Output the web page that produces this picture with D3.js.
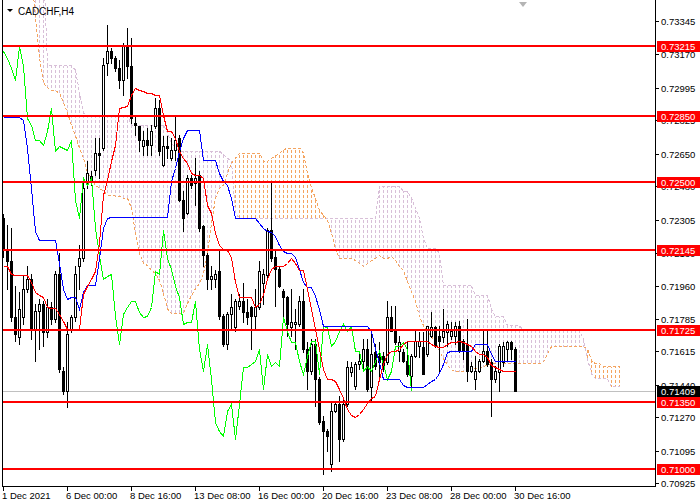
<!DOCTYPE html>
<html>
<head>
<meta charset="utf-8">
<script src="https://cdn.jsdelivr.net/npm/d3@7"></script>
<style>
  body { margin: 0; background: #fff; }
  svg { display: block; }
  text { font-family: "Liberation Sans", Arial, sans-serif; }
</style>
</head>
<body>
<svg id="chart" width="700" height="500"></svg>
<script>
const symbol = "CADCHF,H4";

// H4 candles, one per bar
const opens = [
  0.72312,0.72154,0.72091,0.71797,0.71692,0.71797,0.71944,0.71997,0.71734,0.71829,
  0.71866,0.71719,0.71850,0.71787,0.72023,0.71514,0.71409,0.71734,0.71797,0.72060,
  0.72102,0.72496,0.72506,0.72564,0.72653,0.72680,0.73126,0.73189,0.73152,0.73100,
  0.73037,0.73215,0.73110,0.72811,0.72795,0.72690,0.72722,0.72695,0.72795,0.72890,
  0.72590,0.72690,0.72627,0.72669,0.72732,0.72407,0.72338,0.72522,0.72496,0.72538,
  0.72270,0.72118,0.71997,0.71997,0.72034,0.71803,0.71656,0.71813,0.71745,0.71855,
  0.71881,0.71824,0.71850,0.71803,0.71850,0.71971,0.72013,0.72249,0.72112,0.72049,
  0.71934,0.71902,0.71745,0.71761,0.71761,0.71881,0.71629,0.71514,0.71656,0.71472,
  0.71251,0.71199,0.71026,0.71304,0.71341,0.71157,0.71341,0.71509,0.71435,0.71551,
  0.71566,0.71629,0.71430,0.71614,0.71593,0.71593,0.71561,0.71797,0.71724,0.71619,
  0.71614,0.71566,0.71488,0.71593,0.71645,0.71640,0.71603,0.71698,0.71745,0.71698,
  0.71692,0.71719,0.71698,0.71698,0.71750,0.71671,0.71656,0.71514,0.71472,0.71514,
  0.71566,0.71619,0.71561,0.71472,0.71509,0.71561,0.71629,0.71666,0.71629
];
const highs = [
  0.72333,0.72275,0.72259,0.71960,0.71929,0.72013,0.72065,0.72023,0.71866,0.71892,
  0.71881,0.71892,0.71876,0.72034,0.72128,0.71535,0.71771,0.71808,0.72065,0.72170,
  0.72522,0.72611,0.72559,0.72732,0.72732,0.73152,0.73325,0.73205,0.73163,0.73142,
  0.73231,0.73310,0.73257,0.72848,0.72795,0.72769,0.72785,0.72800,0.72942,0.72932,
  0.72743,0.72743,0.72732,0.72853,0.72748,0.72454,0.72538,0.72538,0.72627,0.72559,
  0.72275,0.72128,0.72065,0.72039,0.72154,0.71813,0.71824,0.71918,0.71892,0.71918,
  0.71971,0.71892,0.71855,0.71944,0.72091,0.72049,0.72259,0.72496,0.72154,0.72065,
  0.71944,0.71908,0.71944,0.71839,0.71908,0.71944,0.71666,0.71682,0.71682,0.71482,
  0.71278,0.71209,0.71351,0.71351,0.71383,0.71369,0.71566,0.71561,0.71561,0.71614,
  0.71682,0.71682,0.71724,0.71656,0.71666,0.71614,0.71881,0.71855,0.71855,0.71698,
  0.71629,0.71666,0.71603,0.71734,0.71719,0.71719,0.71750,0.71824,0.71750,0.71750,
  0.71839,0.71776,0.71771,0.71771,0.71776,0.71682,0.71787,0.71561,0.71593,0.71577,
  0.71734,0.71734,0.71577,0.71540,0.71656,0.71666,0.71671,0.71671,0.71640
];
const lows = [
  0.72112,0.71944,0.71776,0.71671,0.71656,0.71761,0.71929,0.71682,0.71566,0.71629,
  0.71645,0.71692,0.71761,0.71771,0.71509,0.71393,0.71325,0.71719,0.71776,0.71944,
  0.72091,0.72470,0.72485,0.72538,0.72522,0.72669,0.73063,0.73126,0.73084,0.72995,
  0.72958,0.73047,0.72811,0.72748,0.72664,0.72643,0.72643,0.72643,0.72785,0.72643,
  0.72585,0.72627,0.72617,0.72617,0.72401,0.72244,0.72333,0.72470,0.72380,0.72244,
  0.72065,0.71944,0.71944,0.71955,0.71787,0.71645,0.71629,0.71734,0.71724,0.71839,
  0.71771,0.71761,0.71629,0.71734,0.71839,0.71866,0.71997,0.72091,0.71855,0.71955,
  0.71803,0.71698,0.71698,0.71629,0.71750,0.71614,0.71419,0.71498,0.71330,0.71236,
  0.70973,0.71094,0.70989,0.71299,0.71041,0.71147,0.71330,0.71488,0.71419,0.71525,
  0.71525,0.71409,0.71351,0.71525,0.71488,0.71514,0.71551,0.71724,0.71656,0.71566,
  0.71561,0.71488,0.71419,0.71587,0.71587,0.71498,0.71593,0.71692,0.71640,0.71509,
  0.71666,0.71645,0.71682,0.71656,0.71614,0.71577,0.71462,0.71509,0.71419,0.71509,
  0.71561,0.71540,0.71278,0.71456,0.71409,0.71540,0.71566,0.71577,0.71409
];
const closes = [
  0.72154,0.72091,0.71797,0.71708,0.71839,0.71944,0.71997,0.71734,0.71829,0.71866,
  0.71719,0.71850,0.71787,0.72023,0.71524,0.71409,0.71708,0.71797,0.72023,0.72102,
  0.72470,0.72548,0.72533,0.72653,0.72643,0.73115,0.73189,0.73152,0.73100,0.73037,
  0.73215,0.73110,0.72837,0.72800,0.72722,0.72722,0.72695,0.72769,0.72890,0.72664,
  0.72690,0.72680,0.72669,0.72722,0.72407,0.72312,0.72522,0.72485,0.72522,0.72259,
  0.72118,0.71997,0.72008,0.72023,0.71803,0.71656,0.71813,0.71850,0.71881,0.71881,
  0.71824,0.71797,0.71803,0.71850,0.72034,0.72023,0.72249,0.72102,0.72049,0.71960,
  0.71902,0.71761,0.71771,0.71771,0.71881,0.71629,0.71514,0.71656,0.71472,0.71246,
  0.71199,0.71173,0.71304,0.71341,0.71157,0.71341,0.71535,0.71535,0.71551,0.71566,
  0.71629,0.71419,0.71603,0.71540,0.71561,0.71540,0.71797,0.71724,0.71666,0.71666,
  0.71566,0.71498,0.71593,0.71671,0.71671,0.71498,0.71750,0.71745,0.71645,0.71671,
  0.71724,0.71761,0.71724,0.71750,0.71619,0.71619,0.71514,0.71540,0.71514,0.71566,
  0.71619,0.71551,0.71472,0.71514,0.71645,0.71645,0.71666,0.71629,0.71409
];

// Ichimoku lines
const tenkan = [
  0.72065,0.72065,0.72023,0.72013,0.72013,0.72013,0.72013,0.71981,0.71929,0.71913,
  0.71902,0.71850,0.71845,0.71845,0.71813,0.71776,0.71734,0.71734,0.71734,0.71734,
  0.71918,0.71960,0.71997,0.72034,0.72181,0.72433,0.72511,0.72611,0.72695,0.72890,
  0.72895,0.72900,0.72958,0.72995,0.72984,0.72979,0.72968,0.72968,0.72958,0.72958,
  0.72853,0.72769,0.72769,0.72732,0.72664,0.72627,0.72601,0.72548,0.72538,0.72538,
  0.72522,0.72380,0.72338,0.72233,0.72170,0.72154,0.72144,0.72112,0.71981,0.71902,
  0.71902,0.71902,0.71902,0.71850,0.71866,0.71918,0.71997,0.72049,0.72060,0.72060,
  0.72060,0.72076,0.72102,0.72076,0.72039,0.72039,0.71944,0.71839,0.71734,0.71629,
  0.71525,0.71472,0.71472,0.71462,0.71419,0.71369,0.71315,0.71283,0.71273,0.71288,
  0.71315,0.71346,0.71369,0.71383,0.71472,0.71551,0.71603,0.71619,0.71619,0.71629,
  0.71656,0.71671,0.71671,0.71671,0.71671,0.71671,0.71671,0.71656,0.71645,0.71640,
  0.71640,0.71656,0.71666,0.71666,0.71671,0.71666,0.71656,0.71645,0.71619,0.71603,
  0.71603,0.71587,0.71545,0.71535,0.71525,0.71514,0.71514,0.71514,0.71514
];
const kijun = [
  0.72842,0.72842,0.72842,0.72842,0.72842,0.72826,0.72680,0.72470,0.72244,0.72196,
  0.72196,0.72196,0.72196,0.72196,0.72076,0.71944,0.71892,0.71902,0.71902,0.71839,
  0.71929,0.71965,0.71965,0.71965,0.72102,0.72259,0.72312,0.72317,0.72317,0.72317,
  0.72317,0.72317,0.72317,0.72317,0.72317,0.72317,0.72317,0.72317,0.72317,0.72317,
  0.72317,0.72317,0.72506,0.72574,0.72664,0.72732,0.72774,0.72774,0.72774,0.72774,
  0.72617,0.72617,0.72617,0.72617,0.72548,0.72506,0.72485,0.72417,0.72312,0.72312,
  0.72312,0.72312,0.72312,0.72312,0.72286,0.72259,0.72244,0.72238,0.72217,0.72170,
  0.72139,0.72133,0.72128,0.72112,0.72049,0.71981,0.71955,0.71955,0.71908,0.71839,
  0.71750,0.71750,0.71750,0.71750,0.71750,0.71750,0.71750,0.71750,0.71750,0.71750,
  0.71750,0.71750,0.71724,0.71629,0.71561,0.71472,0.71472,0.71472,0.71472,0.71472,
  0.71440,0.71430,0.71430,0.71430,0.71430,0.71430,0.71446,0.71462,0.71472,0.71503,
  0.71551,0.71614,0.71619,0.71619,0.71619,0.71619,0.71619,0.71619,0.71656,0.71656,
  0.71656,0.71656,0.71603,0.71566,0.71566,0.71566,0.71566,0.71566,0.71566
];
// spans run 26 bars past the last candle
const spanA = [
  0.73600,0.73600,0.73600,0.73600,0.73600,0.73600,0.73600,0.73600,0.73362,0.73152,
  0.73021,0.72995,0.72979,0.72979,0.72968,0.72916,0.72863,0.72800,0.72743,0.72680,
  0.72627,0.72548,0.72522,0.72485,0.72470,0.72454,0.72433,0.72433,0.72428,0.72428,
  0.72417,0.72417,0.72365,0.72233,0.72128,0.72076,0.72065,0.72039,0.72023,0.71987,
  0.71918,0.71839,0.71813,0.71813,0.71813,0.71813,0.71866,0.71908,0.71944,0.71971,
  0.72023,0.72128,0.72286,0.72417,0.72470,0.72485,0.72548,0.72601,0.72627,0.72653,
  0.72653,0.72653,0.72653,0.72653,0.72653,0.72611,0.72611,0.72627,0.72638,0.72653,
  0.72669,0.72680,0.72680,0.72680,0.72680,0.72653,0.72548,0.72470,0.72417,0.72354,
  0.72328,0.72302,0.72233,0.72154,0.72102,0.72102,0.72102,0.72102,0.72091,0.72076,
  0.72060,0.72076,0.72091,0.72102,0.72118,0.72102,0.72102,0.72112,0.72091,0.72060,
  0.72039,0.71981,0.71929,0.71876,0.71797,0.71750,0.71724,0.71692,0.71666,0.71619,
  0.71577,0.71545,0.71519,0.71509,0.71509,0.71509,0.71525,0.71535,0.71525,0.71525,
  0.71535,0.71545,0.71551,0.71551,0.71551,0.71551,0.71551,0.71551,0.71551,0.71551,
  0.71551,0.71551,0.71551,0.71551,0.71551,0.71561,0.71603,0.71640,0.71640,0.71640,
  0.71640,0.71640,0.71640,0.71640,0.71640,0.71640,0.71629,0.71566,0.71551,0.71551,
  0.71535,0.71535,0.71535,0.71535,0.71535
];
const spanB = [
  0.73650,0.73650,0.73650,0.73650,0.73650,0.73650,0.73650,0.73650,0.73650,0.73650,
  0.73650,0.73110,0.73110,0.73110,0.73110,0.73110,0.73110,0.73110,0.73089,0.72968,
  0.72863,0.72848,0.72848,0.72848,0.72848,0.72848,0.72848,0.72848,0.72848,0.72848,
  0.72848,0.72848,0.72800,0.72800,0.72800,0.72800,0.72800,0.72800,0.72800,0.72800,
  0.72800,0.72758,0.72706,0.72680,0.72664,0.72664,0.72664,0.72664,0.72664,0.72664,
  0.72664,0.72664,0.72664,0.72664,0.72664,0.72643,0.72627,0.72611,0.72338,0.72312,
  0.72312,0.72312,0.72312,0.72312,0.72312,0.72312,0.72312,0.72312,0.72312,0.72312,
  0.72312,0.72312,0.72312,0.72312,0.72312,0.72312,0.72312,0.72312,0.72312,0.72312,
  0.72312,0.72312,0.72312,0.72312,0.72312,0.72312,0.72312,0.72312,0.72312,0.72312,
  0.72312,0.72312,0.72312,0.72312,0.72480,0.72480,0.72480,0.72480,0.72480,0.72480,
  0.72454,0.72454,0.72417,0.72365,0.72312,0.72207,0.72154,0.72154,0.72154,0.72128,
  0.71960,0.71960,0.71960,0.71960,0.71960,0.71960,0.71960,0.71960,0.71908,0.71908,
  0.71908,0.71908,0.71839,0.71797,0.71797,0.71797,0.71750,0.71750,0.71750,0.71750,
  0.71724,0.71724,0.71724,0.71724,0.71724,0.71724,0.71724,0.71724,0.71724,0.71724,
  0.71724,0.71724,0.71724,0.71724,0.71724,0.71682,0.71577,0.71498,0.71472,0.71472,
  0.71472,0.71472,0.71430,0.71430,0.71430
];
const chikouShift = 26;

// horizontal levels and axis labels
const levels = [0.73215, 0.72850, 0.72500, 0.72145, 0.71725, 0.71350, 0.71000];
const lastPrice = 0.71409;
const priceTicks = [0.73345, 0.73170, 0.72995, 0.72825, 0.72650, 0.72480, 0.72305, 0.72130,
                    0.71960, 0.71785, 0.71615, 0.71440, 0.71270, 0.71095, 0.70925];
const timeTickBars = [0, 16, 32, 48, 64, 80, 96, 112, 128];
const timeTickLabels = ["1 Dec 2021", "6 Dec 00:00", "8 Dec 16:00", "13 Dec 08:00", "16 Dec 00:00",
                        "20 Dec 16:00", "23 Dec 08:00", "28 Dec 00:00", "30 Dec 16:00"];

const svg = d3.select("#chart");
const plotRight = 655, plotBottom = 487;

const x = d3.scaleLinear().domain([0, 163]).range([3, 655]);
const y = d3.scaleLinear().domain([0.709058, 0.734390]).range([487, 3]);
const cx = i => Math.round(x(i));
const py = v => Math.round(y(v));
const fmt = d3.format(".5f");

svg.append("defs").append("clipPath").attr("id", "plotClip")
  .append("rect").attr("x", 3).attr("y", 0).attr("width", plotRight - 3).attr("height", plotBottom);

const plot = svg.append("g").attr("clip-path", "url(#plotClip)").attr("shape-rendering", "crispEdges");

// cloud hatch: dotted verticals between the spans
const cloudIdx = d3.range(spanA.length);
plot.append("g").selectAll("line")
  .data(cloudIdx)
  .enter()
  .append("line")
  .attr("x1", i => cx(i) + 0.5)
  .attr("x2", i => cx(i) + 0.5)
  .attr("y1", i => py(Math.max(spanA[i], spanB[i])))
  .attr("y2", i => py(Math.min(spanA[i], spanB[i])))
  .attr("stroke", i => (spanA[i] > spanB[i] ? "#f4a460" : "#d8bfd8"))
  .attr("stroke-width", 1)
  .attr("stroke-dasharray", "3,2")
  .attr("stroke-dashoffset", i => py(Math.max(spanA[i], spanB[i])) % 5);

const spanLine = d3.line().x((d, i) => cx(i) + 0.5).y(d => y(d));
plot.append("path").attr("d", spanLine(spanB))
  .attr("fill", "none").attr("stroke", "#d8bfd8").attr("stroke-dasharray", "3,2");
plot.append("path").attr("d", spanLine(spanA))
  .attr("fill", "none").attr("stroke", "#f4a460").attr("stroke-dasharray", "3,2");

// last price line
plot.append("line")
  .attr("x1", 3).attr("x2", plotRight)
  .attr("y1", py(lastPrice) + 0.5).attr("y2", py(lastPrice) + 0.5)
  .attr("stroke", "#c0c0c0");

// candles
const bars = d3.range(opens.length);
const candles = plot.append("g");
candles.selectAll(".wick")
  .data(bars)
  .enter()
  .append("line")
  .attr("class", "wick")
  .attr("x1", i => cx(i) + 0.5)
  .attr("x2", i => cx(i) + 0.5)
  .attr("y1", i => py(highs[i]))
  .attr("y2", i => py(lows[i]) + 1)
  .attr("stroke", "#000");

candles.selectAll(".body")
  .data(bars)
  .enter()
  .append("rect")
  .attr("class", "body")
  .each(function (i) {
    const top = py(Math.max(opens[i], closes[i]));
    const bot = py(Math.min(opens[i], closes[i]));
    const r = d3.select(this);
    if (closes[i] > opens[i]) {
      r.attr("x", cx(i) - 0.5).attr("y", top + 0.5)
        .attr("width", 2).attr("height", bot - top)
        .attr("fill", "#fff").attr("stroke", "#000");
    } else {
      r.attr("x", cx(i) - 1).attr("y", top)
        .attr("width", 3).attr("height", Math.max(bot - top + 1, 1))
        .attr("fill", "#000");
    }
  });

// ichimoku lines
const barLine = d3.line().x((d, i) => cx(i) + 0.5).y(d => py(d) + 0.5);
plot.append("path").attr("d", barLine(closes.slice(chikouShift)))
  .attr("fill", "none").attr("stroke", "#00ff00");
plot.append("path").attr("d", barLine(kijun))
  .attr("fill", "none").attr("stroke", "#0000ff");
plot.append("path").attr("d", barLine(tenkan))
  .attr("fill", "none").attr("stroke", "#ff0000");

// horizontal levels
plot.selectAll(".level")
  .data(levels)
  .enter()
  .append("line")
  .attr("class", "level")
  .attr("x1", 3).attr("x2", plotRight)
  .attr("y1", d => py(d)).attr("y2", d => py(d))
  .attr("stroke", "#ff0000").attr("stroke-width", 2);

// frame
const frame = svg.append("g").attr("shape-rendering", "crispEdges").attr("stroke", "#000");
frame.append("line").attr("x1", 2.5).attr("x2", 2.5).attr("y1", 0).attr("y2", plotBottom);
frame.append("line").attr("x1", plotRight + 0.5).attr("x2", plotRight + 0.5).attr("y1", 0).attr("y2", plotBottom);
frame.append("line").attr("x1", 2).attr("x2", plotRight + 1).attr("y1", plotBottom - 0.5).attr("y2", plotBottom - 0.5);

// price axis
const pAxis = svg.append("g");
pAxis.selectAll(".ptick")
  .data(priceTicks)
  .enter()
  .append("line")
  .attr("class", "ptick")
  .attr("shape-rendering", "crispEdges")
  .attr("x1", plotRight + 1).attr("x2", plotRight + 4)
  .attr("y1", d => py(d) + 0.5).attr("y2", d => py(d) + 0.5)
  .attr("stroke", "#000");
pAxis.selectAll(".plabel")
  .data(priceTicks)
  .enter()
  .append("text")
  .attr("class", "plabel")
  .attr("x", plotRight + 6)
  .attr("y", d => py(d) + 4)
  .style("font-size", "9.5px")
  .style("fill", "#000")
  .text(d => fmt(d));

const tags = levels.map(v => ({ v: v, bg: "#ff0000" })).concat([{ v: lastPrice, bg: "#000" }]);
const tag = pAxis.selectAll(".tag").data(tags).enter().append("g").attr("class", "tag");
tag.append("rect")
  .attr("x", plotRight + 2).attr("y", d => py(d.v) - 5)
  .attr("width", 45).attr("height", 11)
  .attr("fill", d => d.bg);
tag.append("text")
  .attr("x", plotRight + 6)
  .attr("y", d => py(d.v) + 4)
  .style("font-size", "9.5px")
  .style("fill", "#fff")
  .text(d => fmt(d.v));

// time axis
const tAxis = svg.append("g");
tAxis.selectAll(".ttick")
  .data(timeTickBars)
  .enter()
  .append("line")
  .attr("class", "ttick")
  .attr("shape-rendering", "crispEdges")
  .attr("x1", d => cx(d) + 0.5).attr("x2", d => cx(d) + 0.5)
  .attr("y1", plotBottom).attr("y2", plotBottom + 4)
  .attr("stroke", "#000");
tAxis.selectAll(".tlabel")
  .data(timeTickBars)
  .enter()
  .append("text")
  .attr("class", "tlabel")
  .attr("x", d => cx(d) - 1)
  .attr("y", 499)
  .style("font-size", "9.5px")
  .style("fill", "#000")
  .text((d, i) => timeTickLabels[i]);

// chart shift marker
svg.append("path")
  .attr("d", `M${cx(130) - 4},2 L${cx(130) + 4},2 L${cx(130)},7 Z`)
  .attr("fill", "#b4b4b4");

// title
svg.append("path").attr("d", "M7,9 L13,9 L10,12 Z").attr("fill", "#000");
svg.append("text")
  .attr("x", 18).attr("y", 15)
  .style("font-size", "10px")
  .style("fill", "#000")
  .text(symbol);
</script>
</body>
</html>
